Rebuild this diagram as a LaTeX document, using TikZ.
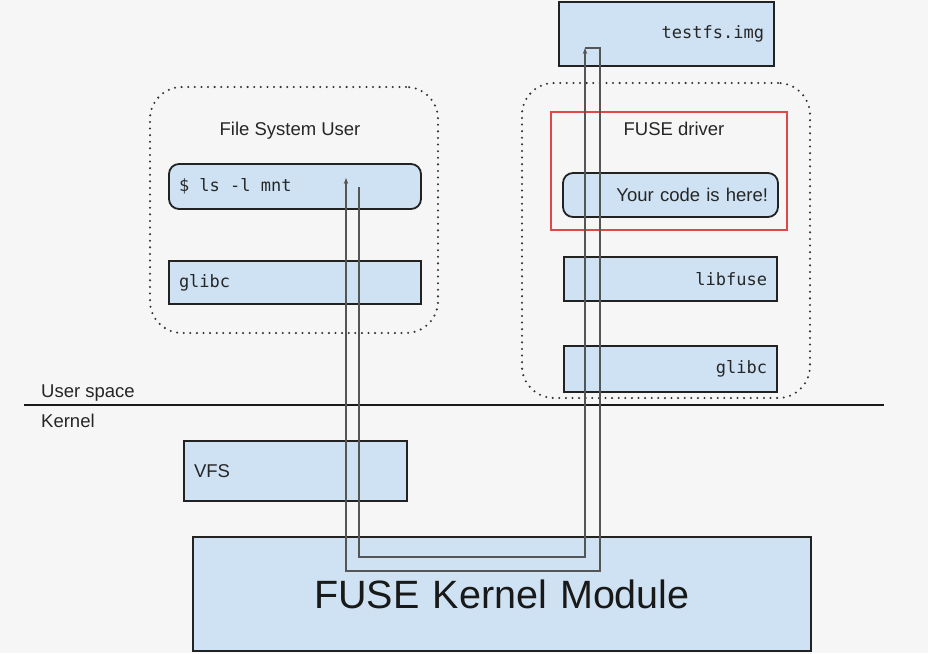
\documentclass[tikz,border=0pt]{standalone}
\usepackage{fontspec}
\setmainfont{Liberation Sans}
\setmonofont{DejaVu Sans Mono}
\usetikzlibrary{arrows.meta}
\definecolor{bg}{HTML}{F6F6F6}
\definecolor{boxblue}{HTML}{CFE2F3}
\definecolor{redline}{HTML}{E04848}
\definecolor{flowgray}{HTML}{555555}
\definecolor{edge}{HTML}{222222}
\newcommand\monosp{\kern0.602em\relax}
\begin{document}
\begin{tikzpicture}[x=1pt,y=-1pt,
  box/.style={draw=edge, line width=1.8pt, fill=boxblue, inner xsep=10pt, inner ysep=0pt,
    outer sep=0pt, anchor=north west},
  mono/.style={font=\ttfamily\fontsize{17}{20}\selectfont, text=black!85},
  lbl/.style={font=\fontsize{18.5}{22}\selectfont, inner sep=0pt, text=black!85},
  dotbox/.style={draw=black!80, line width=2.3pt, dash pattern=on 0pt off 6.6pt, line cap=round,
    rounded corners=32pt, anchor=north west, inner sep=0pt, outer sep=0pt},
  flow/.style={draw=flowgray, line width=1.3pt},
  tip/.style={-{Stealth[length=6pt,width=4.5pt]}}
]
\fill[bg] (0,0) rectangle (928,653);
\useasboundingbox (0,0) rectangle (928,653);

% containers
\node[dotbox, minimum width=288pt, minimum height=246pt] (fsu) at (150,87) {};
\node[dotbox, minimum width=288pt, minimum height=315pt] (drv) at (522,83) {};
\node[draw=redline, line width=2pt, minimum width=236pt, minimum height=118pt, anchor=north west,
  inner sep=0pt, outer sep=0pt] (red) at (551,112) {};

\node[lbl, anchor=base] (fsulbl) at (290,135) {File System User};
\node[lbl, anchor=base] (drvlbl) at (674,135) {FUSE driver};

% boxes
\node[box, mono, text width=195pt, minimum height=64pt, align=right] (img) at (559,2) {testfs.img};
\node[box, mono, text width=232pt, minimum height=45pt, rounded corners=10pt, align=left] (ls) at (169,164) {\$\monosp ls\monosp -l\monosp mnt};
\node[box, mono, text width=232pt, minimum height=43pt, align=left] (glibcL) at (169,261) {glibc};
\node[box, lbl, inner xsep=10pt, text width=195pt, minimum height=44pt, rounded corners=10pt, align=right] (code) at (563,173) {Your code is here!};
\node[box, mono, text width=193pt, minimum height=44pt, align=right] (libfuse) at (564,257) {libfuse};
\node[box, mono, text width=193pt, minimum height=46pt, align=right] (glibcR) at (564,346) {glibc};
\node[box, lbl, inner xsep=10pt, text width=203pt, minimum height=60pt, align=left] (vfs) at (184,441) {VFS};
\node[box, font=\fontsize{39.5}{44}\selectfont, text=black!90, text width=598pt, minimum height=114pt, align=center] (fkm) at (193,537) {FUSE Kernel Module};

% user / kernel divider
\coordinate (divL) at (24,405);
\coordinate (divR) at (884,405);
\draw[line width=1.5pt, draw=black!90] (divL) -- (divR);
\node[lbl, anchor=base west] (us) at (41,397) {User space};
\node[lbl, anchor=base west] (kn) at (41,427) {Kernel};

% request / reply path
\coordinate (s1) at (359,187);
\coordinate (c1) at (359,557);
\coordinate (c2) at (585,557);
\coordinate (e1) at (585,48);
\coordinate (c3) at (600,48);
\coordinate (c4) at (600,571);
\coordinate (c5) at (346,571);
\coordinate (e2) at (346,178);
\draw[flow, tip] (s1) -- (c1) -- (c2) -- (e1);
\draw[flow, tip] (e1) -- (c3) -- (c4) -- (c5) -- (e2);
\end{tikzpicture}
\end{document}
